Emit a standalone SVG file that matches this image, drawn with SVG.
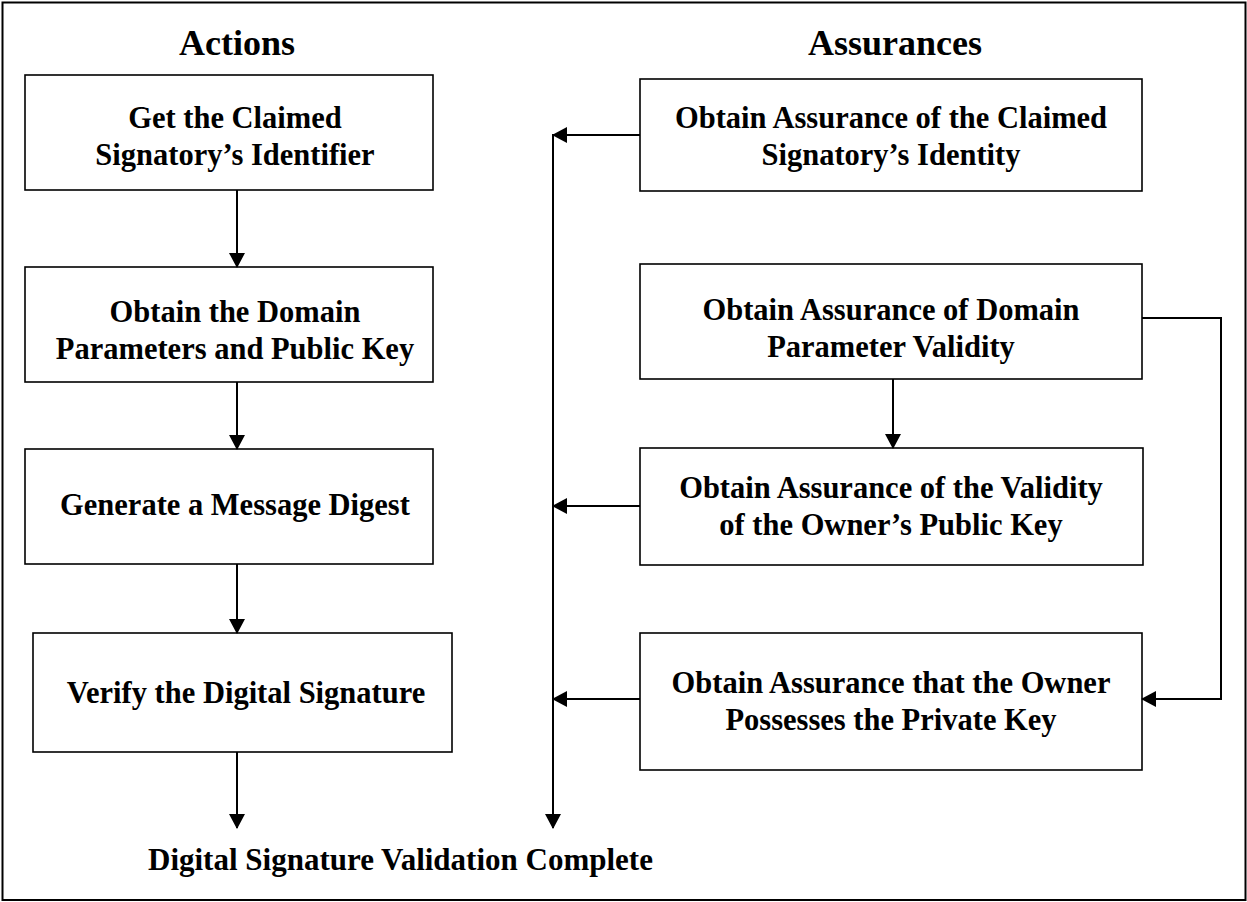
<svg xmlns="http://www.w3.org/2000/svg" width="1247" height="902" viewBox="0 0 1247 902">
<style>
text{font-family:"Liberation Serif","Times New Roman",serif;font-weight:bold;fill:#000;}
.h{font-size:36px;text-anchor:middle;}
.t{font-size:30.5px;text-anchor:middle;}
.box{fill:#fff;stroke:#000;stroke-width:1.6;}
.c{fill:none;stroke:#000;stroke-width:2;}
</style>
<defs>
<marker id="ah" markerUnits="userSpaceOnUse" markerWidth="16" markerHeight="16" refX="14" refY="8" orient="auto">
<path d="M0,0 L15,8 L0,16 z" fill="#000"/>
</marker>
</defs>
<rect x="2.5" y="2.5" width="1243" height="897.5" fill="#fff" stroke="#000" stroke-width="2"/>
<text class="h" x="237" y="55">Actions</text>
<text class="h" x="895" y="55">Assurances</text>
<g id="n1"><rect class="box" x="25" y="75" width="408" height="115"/>
<text class="t" x="235" y="128">Get the Claimed</text><text class="t" x="235" y="165">Signatory’s Identifier</text></g>
<g id="n2"><rect class="box" x="25" y="267" width="408" height="115"/>
<text class="t" x="235" y="322">Obtain the Domain</text><text class="t" x="235" y="359">Parameters and Public Key</text></g>
<g id="n3"><rect class="box" x="25" y="449" width="408" height="115"/>
<text class="t" x="235" y="515">Generate a Message Digest</text></g>
<g id="n4"><rect class="box" x="33" y="633" width="419" height="119"/>
<text class="t" x="246" y="703">Verify the Digital Signature</text></g>
<g id="r1"><rect class="box" x="640" y="79" width="502" height="112"/>
<text class="t" x="891" y="128">Obtain Assurance of the Claimed</text><text class="t" x="891" y="165">Signatory’s Identity</text></g>
<g id="r2"><rect class="box" x="640" y="264" width="502" height="115"/>
<text class="t" x="891" y="320">Obtain Assurance of Domain</text><text class="t" x="891" y="357">Parameter Validity</text></g>
<g id="r3"><rect class="box" x="640" y="448" width="503" height="117"/>
<text class="t" x="891" y="498">Obtain Assurance of the Validity</text><text class="t" x="891" y="535">of the Owner’s Public Key</text></g>
<g id="r4"><rect class="box" x="640" y="633" width="502" height="137"/>
<text class="t" x="891" y="693">Obtain Assurance that the Owner</text><text class="t" x="891" y="730">Possesses the Private Key</text></g>
<g id="end"><text x="148" y="870" style="font-size:31px">Digital Signature Validation Complete</text></g>
<g id="connectors">
<line class="c" x1="237" y1="190" x2="237" y2="267" marker-end="url(#ah)"/>
<line class="c" x1="237" y1="382" x2="237" y2="449" marker-end="url(#ah)"/>
<line class="c" x1="237" y1="564" x2="237" y2="633" marker-end="url(#ah)"/>
<line class="c" x1="237" y1="752" x2="237" y2="828" marker-end="url(#ah)"/>
<line class="c" x1="553" y1="134" x2="553" y2="828" marker-end="url(#ah)"/>
<line class="c" x1="640" y1="135" x2="553" y2="135" marker-end="url(#ah)"/>
<line class="c" x1="640" y1="506" x2="553" y2="506" marker-end="url(#ah)"/>
<line class="c" x1="640" y1="699" x2="553" y2="699" marker-end="url(#ah)"/>
<line class="c" x1="893" y1="379" x2="893" y2="448" marker-end="url(#ah)"/>
<polyline class="c" points="1142,318 1221,318 1221,699 1142,699" marker-end="url(#ah)"/>
</g>
</svg>
